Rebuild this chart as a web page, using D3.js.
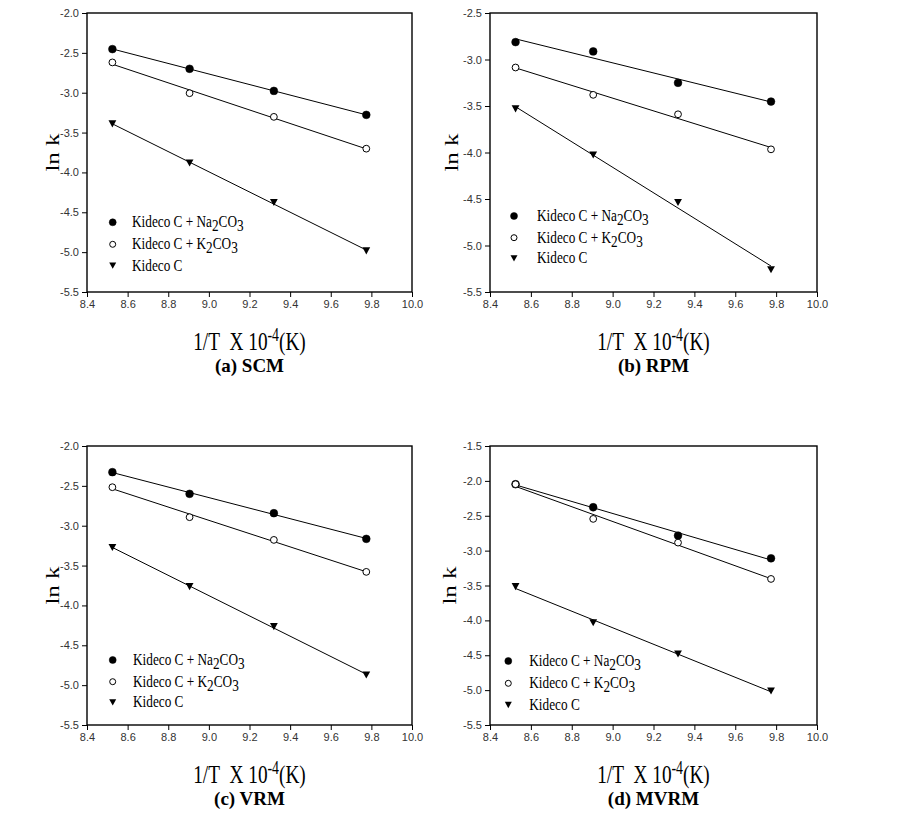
<!DOCTYPE html>
<html>
<head>
<meta charset="utf-8">
<script src="https://cdn.jsdelivr.net/npm/d3@7"></script>
<style>
  html, body { margin: 0; padding: 0; background: #fff; }
  svg { display: block; }
</style>
</head>
<body>
<div id="chart"></div>
<script>
// ---------------- DATA ----------------
const xVals = [8.525, 8.905, 9.320, 9.775];   // 1/T x 10^-4 (K)
const xTicks = [8.4, 8.6, 8.8, 9.0, 9.2, 9.4, 9.6, 9.8, 10.0];

const scmNa = [-2.453, -2.700, -2.977, -3.278];
const scmK  = [-2.620, -3.006, -3.303, -3.702];
const scmC  = [-3.391, -3.882, -4.376, -4.984];

const rpmNa = [-2.813, -2.913, -3.251, -3.452];
const rpmK  = [-3.086, -3.380, -3.589, -3.966];
const rpmC  = [-3.531, -4.027, -4.537, -5.260];

const vrmNa = [-2.328, -2.600, -2.843, -3.165];
const vrmK  = [-2.517, -2.893, -3.178, -3.579];
const vrmC  = [-3.274, -3.764, -4.266, -4.872];

const mvrmNa = [-2.048, -2.378, -2.784, -3.110];
const mvrmK  = [-2.048, -2.545, -2.885, -3.406];
const mvrmC  = [-3.516, -4.033, -4.482, -5.013];

const yTicksA = [-5.5, -5.0, -4.5, -4.0, -3.5, -3.0, -2.5, -2.0];
const yTicksB = [-5.5, -5.0, -4.5, -4.0, -3.5, -3.0, -2.5];
const yTicksD = [-5.5, -5.0, -4.5, -4.0, -3.5, -3.0, -2.5, -2.0, -1.5];

const panelTitles = ["(a) SCM", "(b) RPM", "(c) VRM", "(d) MVRM"];
// legend label parts: [text, isSubscript]
const seriesLabels = [
  [["Kideco C + Na", false], ["2", true], ["CO", false], ["3", true]],
  [["Kideco C + K", false], ["2", true], ["CO", false], ["3", true]],
  [["Kideco C", false]]
];
const seriesKinds = ["filled", "open", "triangle"];

// ---------------- LAYOUT ----------------
const panels = [
  { title: panelTitles[0], series: [scmNa, scmK, scmC], yTicks: yTicksA,
    x0: 87, x1: 412, y0: 13, y1: 292, ylabX: 53, legX: 112.7, legTx: 132, legY: [222.3, 244.3, 265.7] },
  { title: panelTitles[1], series: [rpmNa, rpmK, rpmC], yTicks: yTicksB,
    x0: 490, x1: 817, y0: 13, y1: 292, ylabX: 452, legX: 514, legTx: 537, legY: [216, 237.7, 258.3] },
  { title: panelTitles[2], series: [vrmNa, vrmK, vrmC], yTicks: yTicksA,
    x0: 87, x1: 412, y0: 446, y1: 725, ylabX: 53, legX: 112.7, legTx: 133, legY: [660, 681.7, 702.3] },
  { title: panelTitles[3], series: [mvrmNa, mvrmK, mvrmC], yTicks: yTicksD,
    x0: 490, x1: 817, y0: 446, y1: 725, ylabX: 450, legX: 508.3, legTx: 529.3, legY: [661, 683.3, 705] }
];

const W = 903, H = 820;
const svg = d3.select("#chart").append("svg")
  .attr("width", W).attr("height", H)
  .attr("viewBox", `0 0 ${W} ${H}`);
svg.append("rect").attr("width", W).attr("height", H).attr("fill", "#fff");

const serif = "'Liberation Serif', 'Times New Roman', Times, serif";
const sans = "'Liberation Sans', Arial, Helvetica, sans-serif";
const fmt = v => d3.format(".1f")(v).replace("\u2212", "-");

function regression(xs, ys) {
  const mx = d3.mean(xs), my = d3.mean(ys);
  let sxy = 0, sxx = 0;
  xs.forEach((x, i) => { sxy += (x - mx) * (ys[i] - my); sxx += (x - mx) * (x - mx); });
  const b = sxy / sxx;
  return { b, a: my - b * mx };
}

function drawMarker(g, kind, cx, cy, r) {
  if (kind === "triangle") {
    const w = r, h = r * 0.9;
    g.append("path")
      .attr("d", `M${cx - w},${cy - h}L${cx + w},${cy - h}L${cx},${cy + h}Z`)
      .attr("fill", "#000");
  } else {
    g.append("circle").attr("cx", cx).attr("cy", cy).attr("r", kind === "open" ? r - 0.5 : r)
      .attr("fill", kind === "filled" ? "#000" : "#fff")
      .attr("stroke", "#000").attr("stroke-width", kind === "open" ? 1 : 0.5);
  }
}

panels.forEach(p => {
  const g = svg.append("g");
  const yDom = [d3.min(p.yTicks), d3.max(p.yTicks)];
  const x = d3.scaleLinear().domain([8.4, 10.0]).range([p.x0, p.x1]);
  const y = d3.scaleLinear().domain(yDom).range([p.y1, p.y0]);

  // axes
  const xAxis = d3.axisBottom(x).tickValues(xTicks).tickFormat(fmt).tickSizeInner(5).tickSizeOuter(0).tickPadding(3);
  const yAxis = d3.axisLeft(y).tickValues(p.yTicks).tickFormat(fmt).tickSizeInner(5).tickSizeOuter(0).tickPadding(3);
  const gx = g.append("g").attr("transform", `translate(0,${p.y1})`).call(xAxis);
  const gy = g.append("g").attr("transform", `translate(${p.x0},0)`).call(yAxis);
  [gx, gy].forEach(a => {
    a.select(".domain").remove();
    a.selectAll(".tick line").attr("stroke", "#000").attr("stroke-width", 1);
    a.selectAll(".tick text").attr("font-family", sans).attr("font-size", 11).attr("fill", "#333");
  });
  // frame
  g.append("rect").attr("x", p.x0).attr("y", p.y0)
    .attr("width", p.x1 - p.x0).attr("height", p.y1 - p.y0)
    .attr("fill", "none").attr("stroke", "#000").attr("stroke-width", 1.4);

  // fit lines
  p.series.forEach(ys => {
    const r = regression(xVals, ys);
    const xa = xVals[0], xb = xVals[xVals.length - 1];
    g.append("line")
      .attr("x1", x(xa)).attr("y1", y(r.a + r.b * xa))
      .attr("x2", x(xb)).attr("y2", y(r.a + r.b * xb))
      .attr("stroke", "#000").attr("stroke-width", 1);
  });
  // markers (open circles drawn last so they sit over filled ones, as in the reference)
  [0, 2, 1].forEach(si => {
    p.series[si].forEach((v, i) => drawMarker(g, seriesKinds[si], x(xVals[i]), y(v), 3.9));
  });

  // legend
  seriesLabels.forEach((parts, si) => {
    const ly = p.legY[si];
    drawMarker(g, seriesKinds[si], p.legX, ly, 3.5);
    const t = g.append("text")
      .attr("transform", `translate(${p.legTx},${ly + 5}) scale(0.78,1)`)
      .attr("font-family", serif).attr("font-size", 17).attr("fill", "#000");
    let prevSub = false;
    parts.forEach(([txt, sub]) => {
      const ts = t.append("tspan").text(txt);
      if (sub && !prevSub) ts.attr("dy", 4);
      if (!sub && prevSub) ts.attr("dy", -4);
      prevSub = sub;
    });
  });

  // y label
  const cy = (p.y0 + p.y1) / 2;
  g.append("text")
    .attr("transform", `translate(${p.ylabX + 6},${cy}) scale(0.77,1) rotate(-90)`)
    .attr("text-anchor", "middle")
    .attr("font-family", serif).attr("font-size", 25).attr("fill", "#000")
    .text("ln k");

  // x label
  const cx = (p.x0 + p.x1) / 2;
  const xl = g.append("text")
    .attr("transform", `translate(${cx},${p.y1 + 58}) scale(0.77,1)`)
    .attr("text-anchor", "middle")
    .attr("font-family", serif).attr("font-size", 25).attr("fill", "#000");
  xl.append("tspan").text("1/T\u00a0\u00a0X 10");
  xl.append("tspan").attr("dy", -9).attr("font-size", 18).text("-4");
  xl.append("tspan").attr("dy", 9).text("(K)");

  // panel title
  g.append("text")
    .attr("x", cx).attr("y", p.y1 + 80)
    .attr("text-anchor", "middle")
    .attr("font-family", serif).attr("font-size", 19).attr("font-weight", "bold").attr("fill", "#000")
    .text(p.title);
});
</script>
</body>
</html>
